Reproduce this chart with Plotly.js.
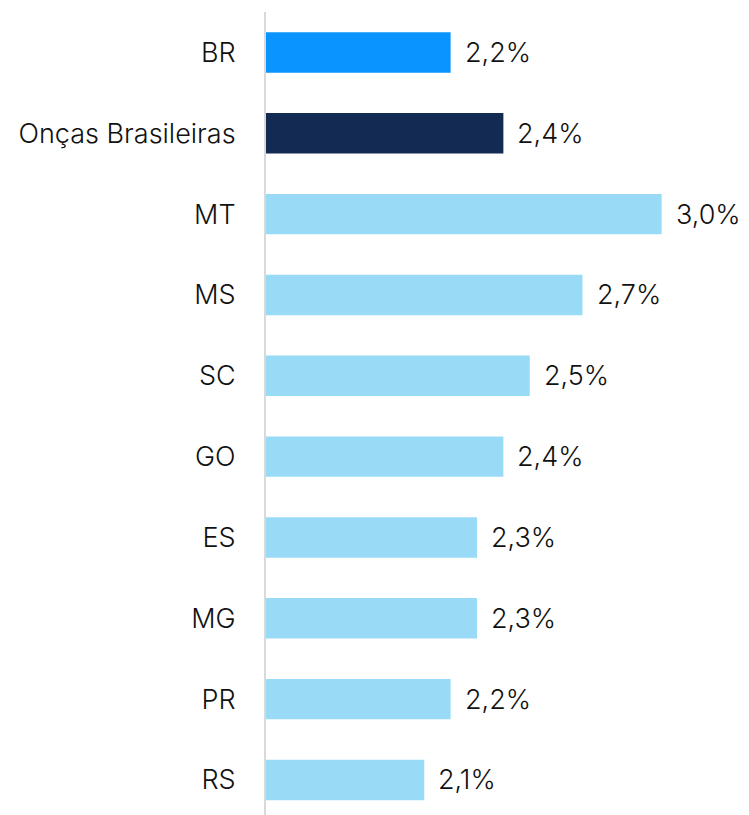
<!DOCTYPE html>
<html>
<head>
<meta charset="utf-8">
<script src="https://cdn.plot.ly/plotly-3.0.1.min.js"></script>
<style>html,body{margin:0;padding:0;background:#fff;overflow:hidden}#chart{width:749px;height:815px}</style>
</head>
<body>
<div id="chart"></div>
<script>
const categories = ["BR","Onças Brasileiras","MT","MS","SC","GO","ES","MG","PR","RS"];
const values = [2.2, 2.4, 3.0, 2.7, 2.5, 2.4, 2.3, 2.3, 2.2, 2.1];
const labels = ["2,2%","2,4%","3,0%","2,7%","2,5%","2,4%","2,3%","2,3%","2,2%","2,1%"];
const barColors = ["#0A94FF","#132A52","#99DBF6","#99DBF6","#99DBF6","#99DBF6","#99DBF6","#99DBF6","#99DBF6","#99DBF6"];

const fontFam = "Inter, 'Noto Sans', sans-serif";
const axisStart = 1.5;
const trace = {
  type: "bar",
  orientation: "h",
  x: values.map(v => v - axisStart),
  y: categories,
  base: axisStart,
  marker: {color: barColors},
  hoverinfo: "skip"
};

const annotations = categories.map((c, i) => ({
  x: values[i], y: c, xref: "x", yref: "y",
  text: labels[i], showarrow: false, xanchor: "left", yanchor: "middle",
  xshift: 12, font: {family: fontFam, size: 27, weight: 300, color: "#111"}
}));

const layout = {
  width: 749, height: 815,
  margin: {l: 266, r: 0, t: 12, b: 0},
  paper_bgcolor: "#fff", plot_bgcolor: "#fff",
  showlegend: false,
  bargap: 0.5,
  xaxis: {range: [axisStart, axisStart + 483/263.75], visible: false, fixedrange: true},
  yaxis: {
    type: "category",
    range: [9.434, -0.5],
    showgrid: false, zeroline: false,
    showline: true, linecolor: "#d9d9d9", linewidth: 2,
    ticks: "", ticklabelstandoff: 23,
    tickfont: {family: fontFam, size: 27, weight: 300, color: "#111"}
  },
  annotations: annotations
};
Plotly.newPlot("chart", [trace], layout, {displayModeBar: false, staticPlot: true});
</script>
</body>
</html>
